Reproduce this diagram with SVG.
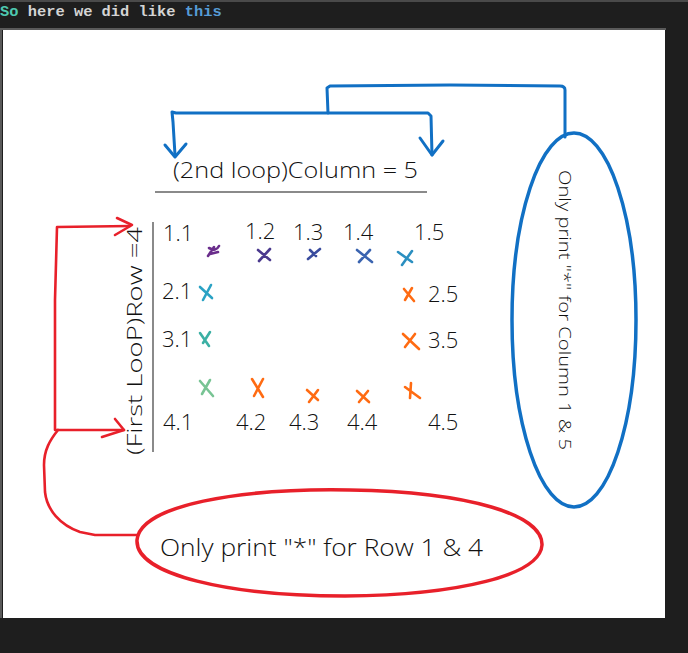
<svg xmlns="http://www.w3.org/2000/svg" width="688" height="653" viewBox="0 0 688 653">
<style>
.hand{font-family:"Open Sans","Noto Sans","DejaVu Sans",sans-serif;font-weight:300;fill:#111111;}
.num{font-size:22px;}
.blue{fill:none;stroke:#1170c4;stroke-width:3;stroke-linecap:round;stroke-linejoin:round;}
.red{fill:none;stroke:#e8202a;stroke-width:2.6;stroke-linecap:round;stroke-linejoin:round;}
.mk{fill:none;stroke-width:2.6;stroke-linecap:round;}
.term{font-family:"Liberation Mono","DejaVu Sans Mono",monospace;font-size:15.4px;font-weight:bold;}
</style>
<rect x="0" y="0" width="688" height="653" fill="#1e1e1e"/>
<rect x="0" y="0" width="688" height="2" fill="#4a4a4a"/>
<rect x="0" y="28" width="666" height="2" fill="#5a5a5a"/>
<rect x="0" y="28" width="2" height="590" fill="#5a5a5a"/>
<rect x="3" y="30" width="662" height="588" fill="#ffffff"/>
<g id="header">
<text class="term" x="0" y="16"><tspan fill="#4ec9b0">So</tspan><tspan fill="#d4d4d4"> here we did like </tspan><tspan fill="#569cd6">this</tspan></text>
</g>
<g id="connectors">
<path class="blue" d="M565 137 L565 90 Q565 86 560 86 L450 85 L330 86 L327 88 L328 113"/>
<path class="blue" d="M175 155 L173 122 L172 112 L176 113 L300 113 L428 113 L431 116 L432 155"/>
<path class="blue" d="M165 145 L175 157 L186 144"/>
<path class="blue" d="M420 138 L432 155 L443 141"/>
<path class="red" d="M130 226 L57 227 L55 300 L55 430 L124 430"/>
<path class="red" d="M117 218 L132 225 L115 235"/>
<path class="red" d="M115 419 L124 430 L102 437"/>
<path class="red" d="M58 430 C50 440 44 450 44 465 L45 492 C47 510 60 525 80 532 L95 535 L137 535"/>
</g>
<g id="column-label">
<text class="hand" x="173" y="178" font-size="22" textLength="245" lengthAdjust="spacingAndGlyphs">(2nd loop)Column = 5</text>
<line x1="155" y1="192" x2="427" y2="192" stroke="#8a8a8a" stroke-width="2"/>
</g>
<g id="row-label">
<text class="hand" transform="translate(142 455) rotate(-90)" x="0" y="0" font-size="20" textLength="228" lengthAdjust="spacingAndGlyphs">(First LooP)Row =4</text>
<line x1="153" y1="222" x2="153" y2="452" stroke="#8a8a8a" stroke-width="2"/>
</g>
<g id="grid-numbers" class="hand num">
<text x="163" y="241">1.1</text>
<text x="245" y="239">1.2</text>
<text x="293" y="240">1.3</text>
<text x="343" y="240">1.4</text>
<text x="414" y="240">1.5</text>
<text x="162" y="299">2.1</text>
<text x="428" y="302">2.5</text>
<text x="162" y="347">3.1</text>
<text x="428" y="348">3.5</text>
<text x="163" y="430">4.1</text>
<text x="236" y="430">4.2</text>
<text x="289" y="430">4.3</text>
<text x="347" y="430">4.4</text>
<text x="428" y="430">4.5</text>
</g>
<g id="marks">
<path class="mk" stroke="#6a2d8c" d="M208 256 L214 247 M209 248 Q216 252 219 246 M210 254 L218 252"/>
<path class="mk" stroke="#4b3a8e" d="M258 250 L270 260 M270 249 L259 261"/>
<path class="mk" stroke="#3a4c9e" d="M308 259 L320 249 M310 250 L316 256"/>
<path class="mk" stroke="#3b64b0" d="M357 250 L372 262 M370 250 L359 262"/>
<path class="mk" stroke="#2b8fc0" d="M398 252 L412 262 M412 251 L402 265"/>
<path class="mk" stroke="#2aa2c4" d="M200 287 L212 298 M211 285 L203 300"/>
<path class="mk" stroke="#3bb0a4" d="M200 333 L209 346 M210 332 L203 343"/>
<path class="mk" stroke="#78c494" d="M200 381 L213 396 M210 380 L202 394"/>
<path class="mk" stroke="#ff6b12" d="M252 379 L263 397 M263 379 L254 396"/>
<path class="mk" stroke="#ff6b12" d="M307 390 L318 400 M318 390 L309 402"/>
<path class="mk" stroke="#ff6b12" d="M357 391 L369 402 M368 391 L359 402"/>
<path class="mk" stroke="#ff6b12" d="M405 387 L420 398 M411 383 L410 398"/>
<path class="mk" stroke="#ff6b12" d="M404 289 L414 301 M412 288 L405 300"/>
<path class="mk" stroke="#ff6b12" d="M403 334 L419 349 M415 334 L405 347"/>
</g>
<g id="node-row-note">
<path d="M137 540 C140 505 240 488 350 490 C470 492 543 515 542 545 C540 575 460 595 345 596 C230 596 135 575 137 540 Z" fill="none" stroke="#e8202a" stroke-width="3.5"/>
<text class="hand" x="160" y="556" font-size="23" textLength="323" lengthAdjust="spacingAndGlyphs">Only print "*" for Row 1 &amp; 4</text>
</g>
<g id="node-column-note">
<ellipse cx="574" cy="320" rx="62" ry="187" fill="none" stroke="#1170c4" stroke-width="3.5"/>
<text class="hand" transform="translate(559 170) rotate(90)" x="0" y="0" font-size="16" textLength="280" lengthAdjust="spacingAndGlyphs">Only print "*" for Column 1 &amp; 5</text>
</g>
</svg>
